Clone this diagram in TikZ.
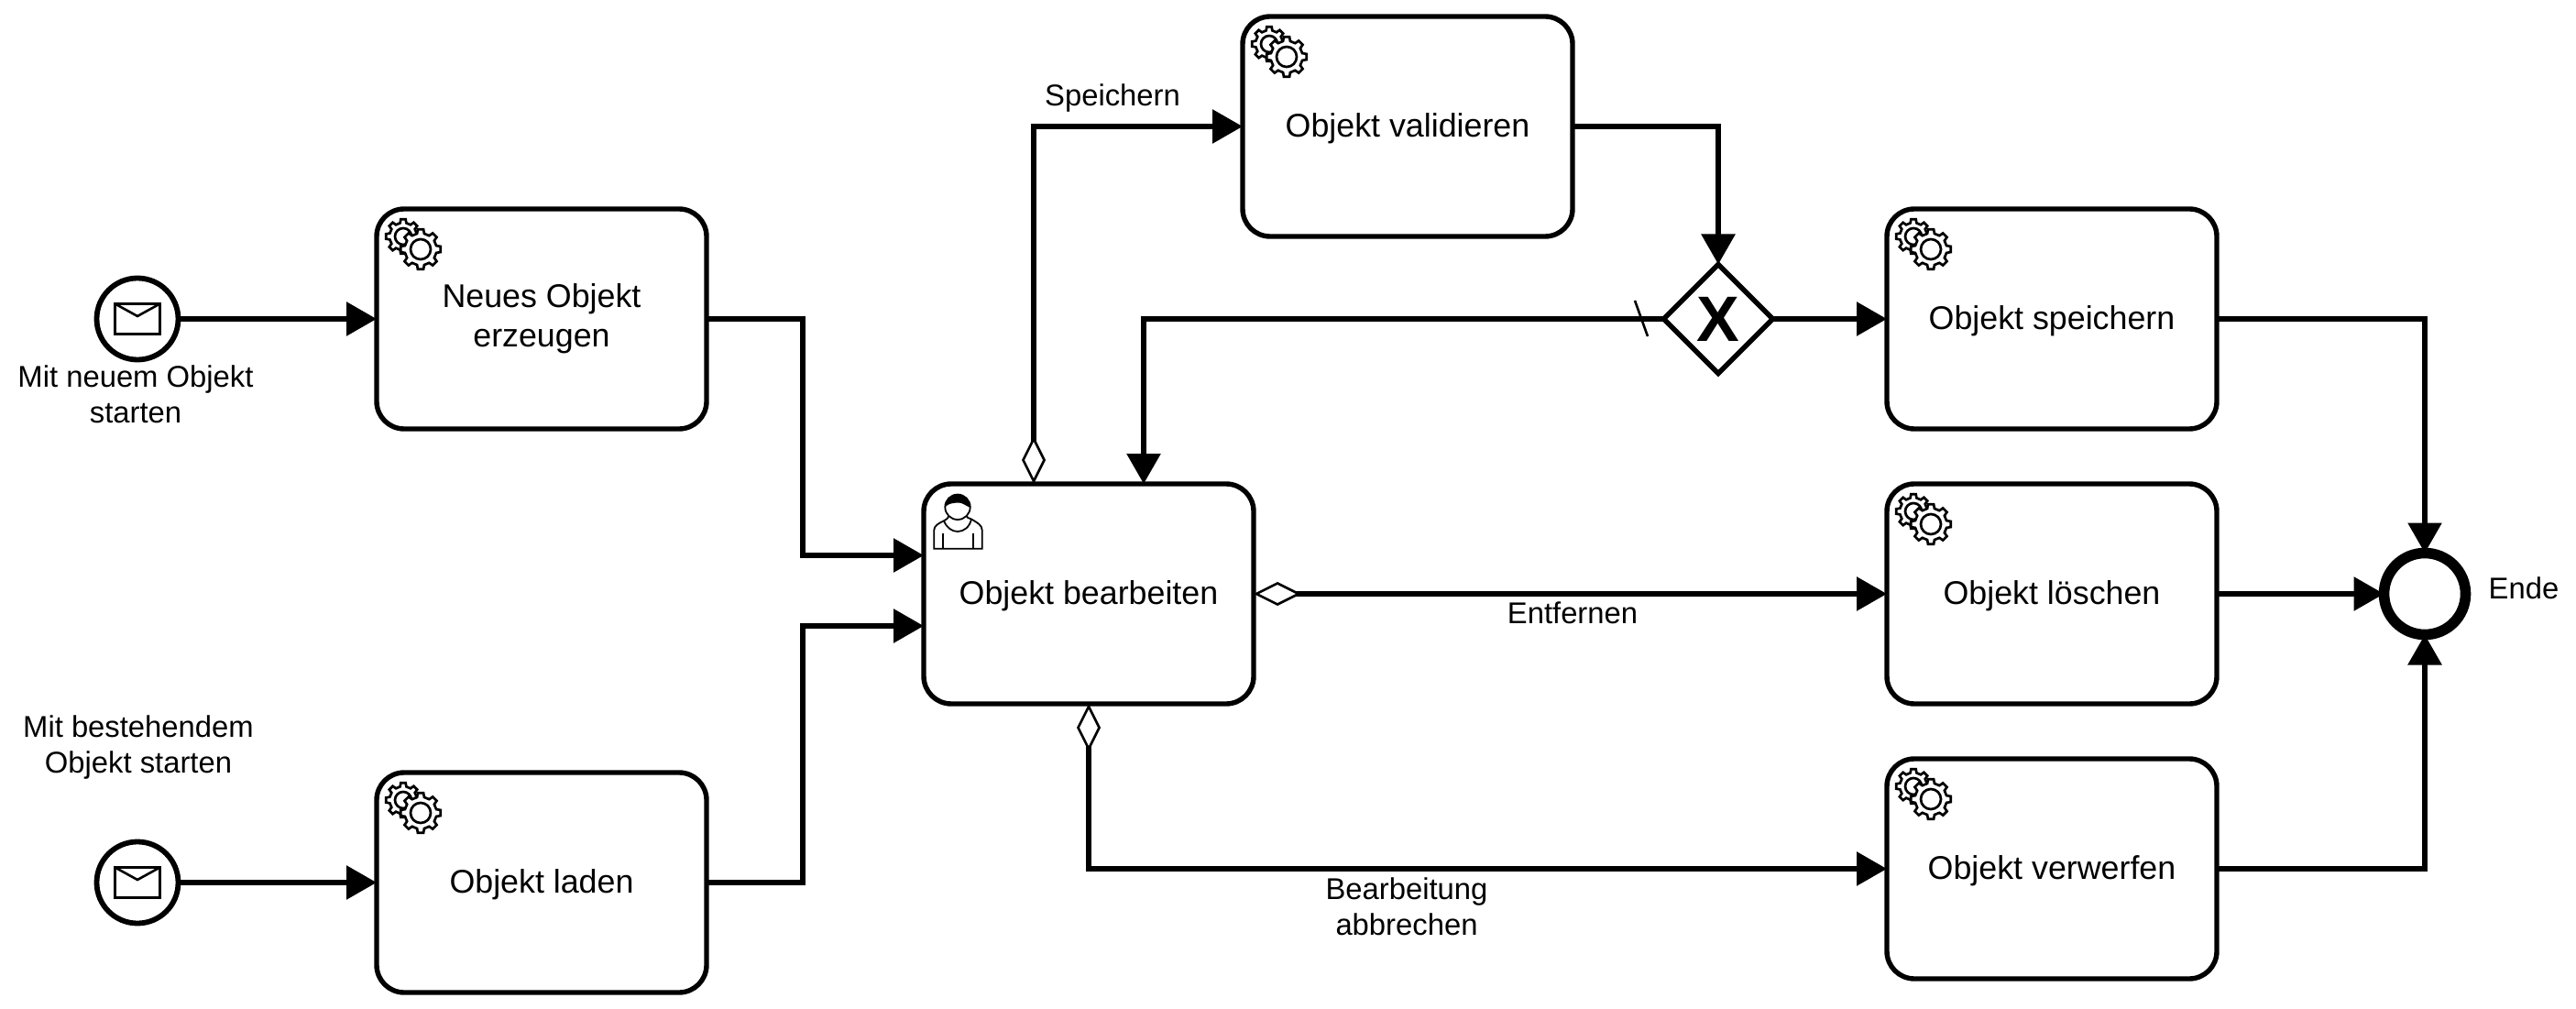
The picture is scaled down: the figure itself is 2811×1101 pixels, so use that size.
\documentclass[tikz,border=0pt]{standalone}
\usepackage{fontspec}
\setmainfont{Liberation Sans}
\usetikzlibrary{arrows.meta,shapes.geometric,calc}
\newcommand{\gearoutline}[5]{%
  \draw[fill=white,line width=1.35pt,line join=miter]
    ($(#1,#2)+(-13:#4)$)
    \foreach \a in {0,45,...,315}{
      -- ($(#1,#2)+({\a-13}:#4)$) -- ($(#1,#2)+({\a-8}:#3)$) -- ($(#1,#2)+({\a+8}:#3)$) -- ($(#1,#2)+({\a+13}:#4)$)
    } -- cycle;
  \draw[line width=1.35pt] (#1,#2) circle[radius=#5];
}
\tikzset{
  x=0.5pt,y=-0.5pt,
  taskbox/.style={draw,fill=white,rectangle,rounded corners=15pt,line width=2.7pt,
    minimum width=180pt,minimum height=120pt,inner sep=0pt,outer sep=0pt,align=center,
    font=\fontsize{17.9}{21.5}\selectfont,execute at begin node={\rule{0pt}{15.1pt}}},
  startev/.style={draw,fill=white,circle,line width=2.9pt,minimum size=44.5pt,inner sep=0pt,outer sep=0pt},
  endev/.style={draw,fill=white,circle,line width=5.8pt,minimum size=44.5pt,inner sep=0pt,outer sep=0pt},
  gate/.style={draw,fill=white,diamond,aspect=1,line width=2.7pt,minimum size=59.5pt,inner sep=0pt,outer sep=0pt,
    font=\fontsize{35}{35}\selectfont\bfseries},
  lbl/.style={align=center,inner sep=0pt,font=\fontsize{16.4}{19.5}\selectfont},
  flow/.style={draw,line width=2.9pt,-{Triangle[length=16.5pt,width=18pt]}},
  dflow/.style={draw,line width=2.9pt,
    {Diamond[open,fill=white,length=26pt,width=13pt,line width=1.3pt]}-{Triangle[length=16.5pt,width=18pt]}},
  pics/envelope/.style={code={
    \draw[line width=1.3pt,fill=white] (-24.5,-16.5) rectangle (24.5,16.5);
    \draw[line width=1.3pt] (-24.5,-16.5) -- (0,-3) -- (24.5,-16.5);
  }},
  pics/servicegear/.style={code={
    \gearoutline{29}{30}{19}{15}{9}
    \gearoutline{48}{44}{22}{17.5}{11}
  }},
  pics/usericon/.style={code={
    \draw[line width=0.9pt,fill=white] (11.3,70.7) -- (11.3,50.3) .. controls (11.3,46) and (16,43) .. (22,40.3)
       .. controls (26,38) and (28,36) .. (27,35) -- (47,35) .. controls (46,36) and (48,37) .. (52,38.5)
       .. controls (58,42) and (63.7,45) .. (63.7,50.3) -- (63.7,70.7) -- cycle;
    \draw[line width=0.9pt] (22,40.3) .. controls (25,48) and (31,52) .. (37,52) .. controls (44,52) and (50,47) .. (52,38.5);
    \draw[line width=0.9pt] (21,53.7) -- (21,70.7) (53.7,53.7) -- (53.7,70.7);
    \draw[line width=0.9pt,fill=white] (37,25.3) circle[radius=13.7];
    \fill (23.3,25) .. controls (24,16) and (30,11.6) .. (37,11.6) .. controls (44,11.6) and (50.5,16) .. (50.7,26)
       .. controls (46,24) and (42,20) .. (37,20.5) .. controls (32,21) and (28,21) .. (23.3,25) -- cycle;
  }}
}
\begin{document}
\begin{tikzpicture}
\useasboundingbox (0,0) rectangle (2811,1101);
% events
\node[startev] (s1) at (150,348) {};
\node[startev] (s2) at (150,963) {};
\pic at (s1.center) {envelope};
\pic at (s2.center) {envelope};
% tasks
\node[taskbox,execute at begin node={\rule{0pt}{17pt}}] (t1) at (591,348) {Neues Objekt\\erzeugen};
\node[taskbox] (t2) at (591,963) {Objekt laden};
\node[taskbox] (b) at (1188,648) {Objekt bearbeiten};
\node[taskbox] (v) at (1536,138) {Objekt validieren};
\node[taskbox] (sp) at (2239,348) {Objekt speichern};
\node[taskbox] (l) at (2239,648) {Objekt löschen};
\node[taskbox] (vw) at (2239,948) {Objekt verwerfen};
\node[gate] (g) at (1875,348) {X};
\node[endev] (e) at (2646,648) {};
\pic at (t1.north west) {servicegear};
\pic at (t2.north west) {servicegear};
\pic at (v.north west) {servicegear};
\pic at (sp.north west) {servicegear};
\pic at (l.north west) {servicegear};
\pic at (vw.north west) {servicegear};
\pic at (b.north west) {usericon};
% connector helper points
\coordinate (j1) at (876,450);
\coordinate (j2) at (876,820);
\coordinate (bin1) at (1008,606);
\coordinate (bin2) at (1008,683);
\coordinate (btop1) at (1128,528);
\coordinate (btop2) at (1248,528);
\coordinate (bbot) at (1188,768);
\coordinate (sl1) at (1784,328);
\coordinate (sl2) at (1798,367);
% connectors
\path[flow] (s1.east) -- (t1.west);
\path[flow] (s2.east) -- (t2.west);
\path[flow] (t1.east) -| (j1) |- (bin1);
\path[flow] (t2.east) -| (j2) |- (bin2);
\path[dflow] (btop1) |- (v.west);
\path[flow] (v.east) -| (g.north);
\path[flow] (g.west) -| (btop2);
\draw[line width=1.3pt] (sl1) -- (sl2);
\path[flow] (g.east) -- (sp.west);
\path[dflow] (b.east) -- (l.west);
\path[dflow] (bbot) |- (vw.west);
\path[flow] (sp.east) -| (e.north);
\path[flow] (l.east) -- (e.west);
\path[flow] (vw.east) -| (e.south);
% labels
\node[lbl] (ls1) at (148,430) {Mit neuem Objekt\\starten};
\node[lbl] (ls2) at (151,816) {Mit bestehendem\\Objekt starten};
\node[lbl] (lsp) at (1214,107) {Speichern};
\node[lbl] (len) at (1716,669) {Entfernen};
\node[lbl] (lab) at (1535,989) {Bearbeitung\\abbrechen};
\node[lbl] (lend) at (2754,642) {Ende};
\end{tikzpicture}
\end{document}
